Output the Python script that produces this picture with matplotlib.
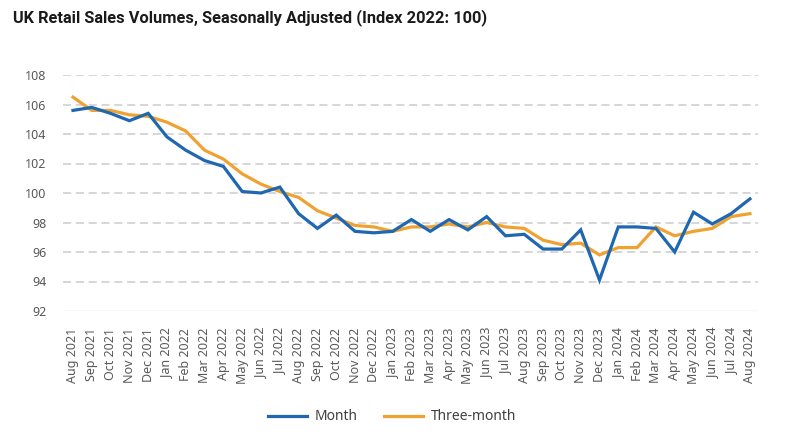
import matplotlib
matplotlib.use("Agg")
import matplotlib.pyplot as plt

months = ["Aug 2021", "Sep 2021", "Oct 2021", "Nov 2021", "Dec 2021",
          "Jan 2022", "Feb 2022", "Mar 2022", "Apr 2022", "May 2022", "Jun 2022",
          "Jul 2022", "Aug 2022", "Sep 2022", "Oct 2022", "Nov 2022", "Dec 2022",
          "Jan 2023", "Feb 2023", "Mar 2023", "Apr 2023", "May 2023", "Jun 2023",
          "Jul 2023", "Aug 2023", "Sep 2023", "Oct 2023", "Nov 2023", "Dec 2023",
          "Jan 2024", "Feb 2024", "Mar 2024", "Apr 2024", "May 2024", "Jun 2024",
          "Jul 2024", "Aug 2024"]

month_vals = [105.6, 105.8, 105.4, 104.9, 105.4,
              103.8, 102.9, 102.2, 101.8, 100.1, 100.0,
              100.4, 98.6, 97.6, 98.5, 97.4, 97.3,
              97.4, 98.2, 97.4, 98.2, 97.5, 98.4,
              97.1, 97.2, 96.2, 96.2, 97.5, 94.1,
              97.7, 97.7, 97.6, 96.0, 98.7, 97.9,
              98.6, 99.6]

three_month_vals = [106.5, 105.6, 105.6, 105.3, 105.2,
                    104.8, 104.2, 102.9, 102.3, 101.3, 100.6,
                    100.1, 99.7, 98.8, 98.3, 97.8, 97.7,
                    97.4, 97.7, 97.7, 97.9, 97.7, 98.0,
                    97.7, 97.6, 96.8, 96.5, 96.6, 95.8,
                    96.3, 96.3, 97.7, 97.1, 97.4, 97.6,
                    98.4, 98.6]

y_ticks = [92, 94, 96, 98, 100, 102, 104, 106, 108]

plt.rcParams['font.family'] = ['Noto Sans', 'DejaVu Sans']

fig = plt.figure(figsize=(8.03, 4.43), dpi=100)
ax = fig.add_axes([63/803, 1 - 311/443, (758 - 63)/803, (311 - 75)/443])

x = list(range(len(months)))
blue = '#1f68b1'
orange = '#efa232'

for yv in y_ticks[1:]:
    ax.axhline(yv, color='#d3d3d8', lw=1.3, linestyle=(0, (4.5, 2.6)), zorder=0)
ax.axhline(y_ticks[0], color='#d9d9d9', lw=1.0, zorder=0)

ax.plot(x, month_vals, color=blue, lw=2.3, label='Month', solid_joinstyle='miter', zorder=3)
ax.plot(x, three_month_vals, color=orange, lw=2.3, label='Three-month', solid_joinstyle='miter', zorder=2)

ax.set_xlim(-0.53, len(months) - 1 + 0.43)
ax.set_ylim(92, 108)
ax.set_yticks(y_ticks)
ax.set_yticklabels([str(v) for v in y_ticks])
ax.set_xticks(x)
ax.set_xticklabels(months, rotation=90)

for s in ax.spines.values():
    s.set_visible(False)
ax.tick_params(axis='both', length=0, labelcolor='#595959', labelsize=9)
ax.tick_params(axis='y', pad=12)
ax.tick_params(axis='x', pad=12)

fig.text(13/803, 1 - 18/443, "UK Retail Sales Volumes, Seasonally Adjusted (Index 2022: 100)",
         fontsize=11.75, fontweight='bold', color='#1a1a1a', va='center', ha='left',
         family=['Roboto', 'DejaVu Sans'])

handles, labels = ax.get_legend_handles_labels()
leg = fig.legend(handles, labels, loc='center', bbox_to_anchor=(392/803, 1 - 417/443),
                 ncol=2, frameon=False, fontsize=10, handlelength=2.8,
                 handletextpad=0.55, columnspacing=1.9)
for t in leg.get_texts():
    t.set_color('#404040')

fig.savefig('out.png', dpi=100)
